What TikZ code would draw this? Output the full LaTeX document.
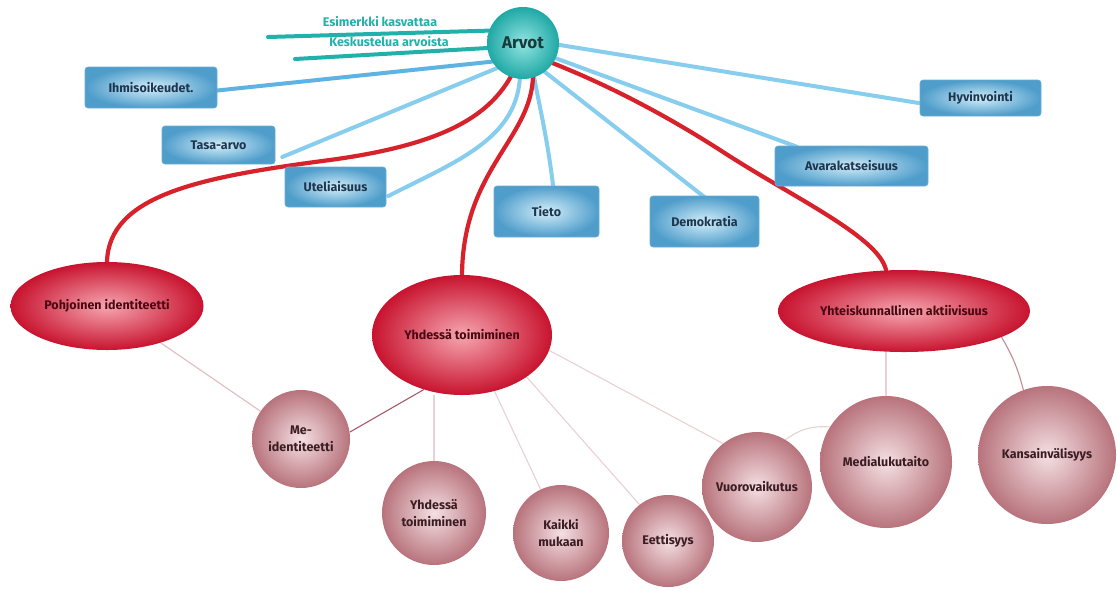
\documentclass[tikz,border=0pt]{standalone}
\usepackage{fontspec}
\setmainfont{Fira Sans}
\usetikzlibrary{shapes.geometric,calc}
\pgfdeclarelayer{back}
\pgfdeclarelayer{bg}
\pgfsetlayers{back,bg,main}
\definecolor{boxin}{HTML}{D3EEF9}
\definecolor{boxout}{HTML}{4F9DCB}
\definecolor{boxline}{HTML}{6AAED6}
\definecolor{boxtext}{HTML}{1E3550}
\definecolor{blueln}{HTML}{86CDEE}
\definecolor{blueln2}{HTML}{5FB3E2}
\definecolor{tealin}{HTML}{93E5E2}
\definecolor{tealout}{HTML}{1FA8A5}
\definecolor{tealln}{HTML}{22B1AA}
\definecolor{tealtext}{HTML}{173C3C}
\definecolor{redln}{HTML}{D8222B}
\definecolor{redin}{HTML}{F6A6B0}
\definecolor{redout}{HTML}{C8132F}
\definecolor{redtext}{HTML}{4A0812}
\definecolor{pinkin}{HTML}{F4E0E3}
\definecolor{pinkout}{HTML}{B8737C}
\definecolor{pinktext}{HTML}{3B1C22}
\definecolor{thinln}{HTML}{EAD0D4}
\definecolor{thinln2}{HTML}{A85A68}
\begin{document}
\begin{tikzpicture}[x=1pt,y=-1pt,
  bluebox/.style={rectangle, rounded corners=3pt, inner color=boxin, outer color=boxout,
    draw=boxline, line width=0.6pt, text=boxtext, inner sep=0pt,
    font=\bfseries\fontsize{12.5}{14}\selectfont},
  redell/.style={ellipse, inner color=redin, outer color=redout, text=redtext, inner sep=0pt,
    font=\bfseries\fontsize{12.5}{14}\selectfont},
  pinkc/.style={circle, inner color=pinkin, outer color=pinkout, text=pinktext, inner sep=0pt,
    align=center, font=\bfseries\fontsize{12.5}{17}\selectfont},
  blueline/.style={draw=blueln, line width=4pt, line cap=round},
  redline/.style={draw=redln, line width=4.2pt, line cap=round},
  tealline/.style={draw=tealln, line width=4pt, line cap=round},
  teallabel/.style={text=tealln, font=\bfseries\fontsize{12.5}{14}\selectfont, inner sep=0pt},
  thin/.style={draw=thinln, line width=1.1pt}
]
\begin{pgfonlayer}{back}
\path[use as bounding box, fill=white] (0,0) rectangle (1118,590);
\end{pgfonlayer}

% central node
\node[circle, minimum size=72pt, inner sep=0pt, inner color=tealin, outer color=tealout,
  text=tealtext, font=\bfseries\fontsize{17}{19}\selectfont] (arvot) at (523,43) {Arvot};

% teal labels
\node[teallabel] (esim) at (380,22) {Esimerkki kasvattaa};
\node[teallabel] (kesk) at (389,42) {Keskustelua arvoista};
\coordinate (e1) at (268,37);
\coordinate (k1) at (295,59);

% blue boxes
\node[bluebox, minimum width=132pt, minimum height=41pt] (ihm) at (151,87.5) {Ihmisoikeudet.};
\node[bluebox, minimum width=113pt, minimum height=38pt] (tasa) at (218.5,145) {Tasa-arvo};
\node[bluebox, minimum width=101pt, minimum height=40pt] (ute) at (335.5,187) {Uteliaisuus};
\node[bluebox, minimum width=105pt, minimum height=51pt] (tieto) at (546.5,211.5) {Tieto};
\node[bluebox, minimum width=109pt, minimum height=51pt] (demo) at (704.5,221.5) {Demokratia};
\node[bluebox, minimum width=153pt, minimum height=40pt] (ava) at (851.5,166) {Avarakatseisuus};
\node[bluebox, minimum width=121pt, minimum height=36pt] (hyv) at (980.5,98) {Hyvinvointi};

% red ellipses
\node[redell, minimum width=193pt, minimum height=88pt] (pohj) at (107,306) {Pohjoinen identiteetti};
\node[redell, minimum width=180pt, minimum height=120pt] (yhd) at (462,335) {Yhdessä toimiminen};
\node[redell, minimum width=252pt, minimum height=82pt] (yht) at (904,311) {Yhteiskunnallinen aktiivisuus};

% pink circles
\node[pinkc, minimum size=98pt] (me) at (301,439) {Me-\\identiteetti};
\node[pinkc, minimum size=104pt] (yhdc) at (434,513) {Yhdessä\\toimiminen};
\node[pinkc, minimum size=96pt] (kai) at (561,533) {Kaikki\\mukaan};
\node[pinkc, minimum size=92pt] (eet) at (668,541) {Eettisyys};
\node[pinkc, minimum size=110pt] (vuo) at (757,487) {Vuorovaikutus};
\node[pinkc, minimum size=132pt] (med) at (886,462) {Medialukutaito};
\node[pinkc, minimum size=138pt] (kan) at (1047,455) {Kansainvälisyys};

\begin{pgfonlayer}{bg}
  % teal lines
  \draw[tealline] (e1) -- (arvot.160);
  \draw[tealline] (k1) -- (arvot.188);
  % blue lines
  \draw[blueline, draw=blueln2] ([yshift=-3pt]ihm.east) -- (arvot.211);
  \draw[blueline] ([xshift=7pt,yshift=-12pt]tasa.east) -- (arvot.224);
  \draw[blueline] ([xshift=2pt,yshift=-9pt]ute.east) .. controls (455,162) and (515,140) .. (arvot.265);
  \draw[blueline] ([xshift=7pt,yshift=-4pt]tieto.north) .. controls (548,140) and (538,100) .. (arvot.288);
  \draw[blueline] ([xshift=2pt,yshift=-3pt]demo.north) -- (arvot.307);
  \draw[blueline] ([xshift=22pt,yshift=-1pt]ava.north west) -- (arvot.335);
  \draw[blueline] ([xshift=-1pt,yshift=-5pt]hyv.west) -- (arvot.357);
  % red curves
  \draw[redline] (arvot.250) .. controls (487,118) and (440,145) .. (330,160)
     .. controls (200,177) and (109,195) .. (pohj.north);
  \draw[redline] (arvot.286) .. controls (530,140) and (463,170) .. (yhd.north);
  \draw[redline] (arvot.326) .. controls (615,88) and (670,118) .. (720,150)
     .. controls (790,196) and (878,236) .. ($(yht.north)+(-18,0)$);
  % thin lines
  \draw[thin, draw=thinln!80!pinkout] (pohj) -- (me);
  \draw[thin, draw=thinln2] (yhd.235) -- (me.8);
  \draw[thin] (yhdc.north |- yhd.south) -- (yhdc.north);
  \draw[thin] (yhd.-60) -- (kai.115);
  \draw[thin] (yhd.-33) -- (eet.128);
  \draw[thin] (yhd.-10) -- (vuo.128);
  \draw[thin] (vuo.59) to[bend left=20] (med.148);
  \draw[thin] (med.north |- yht.south) -- (med.north);
  \draw[thin, draw=thinln2!70!white] (yht.-15) to[bend left=8] (kan.110);
\end{pgfonlayer}
\end{tikzpicture}
\end{document}
